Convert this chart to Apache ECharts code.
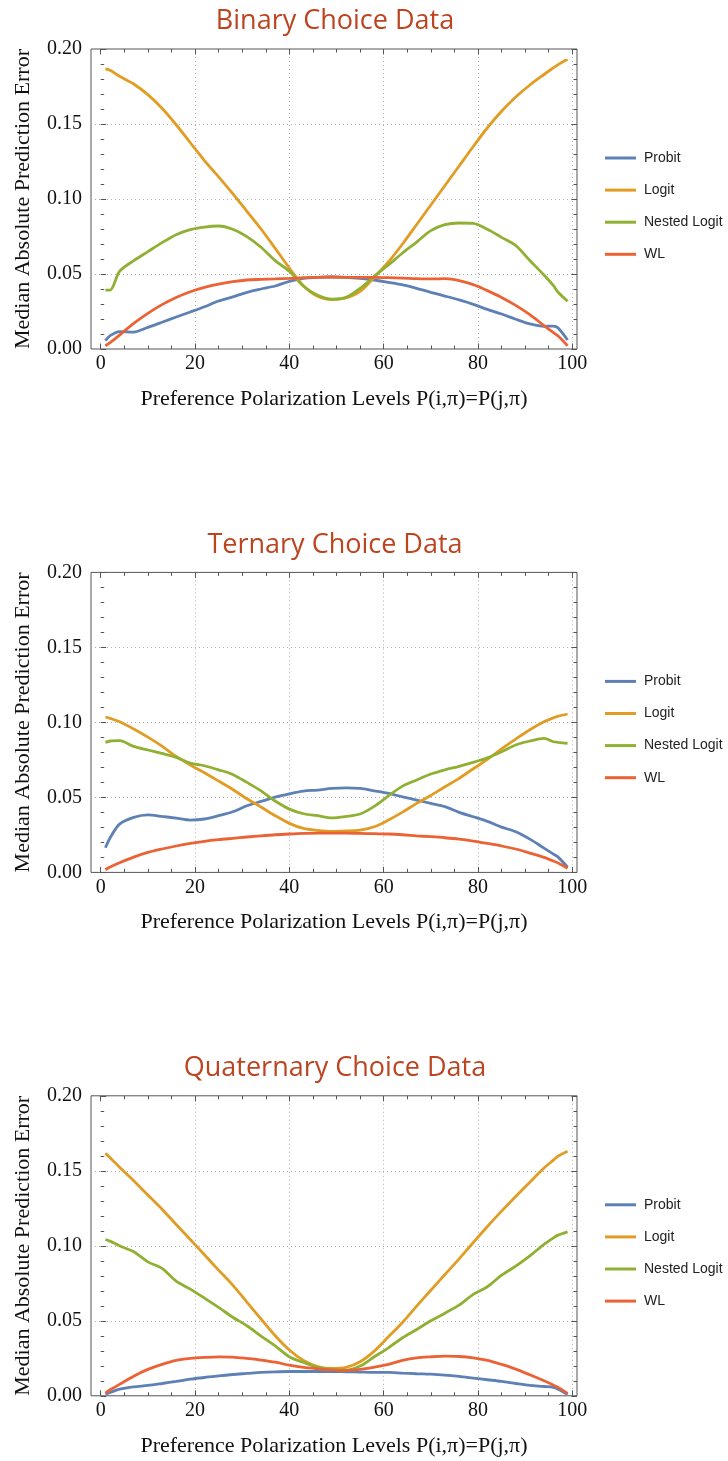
<!DOCTYPE html>
<html>
<head>
<meta charset="utf-8">
<title>Median Absolute Prediction Error</title>
<script src="https://cdn.jsdelivr.net/npm/echarts@6.0.0/dist/echarts.min.js"></script>
<style>
  html, body { margin: 0; padding: 0; background: #ffffff; }
  #chart { width: 728px; height: 1461px; }
</style>
</head>
<body>
<div id="chart"></div>
<script>
// Preference polarization levels at which the error is sampled
const X_VALUES = [1, 2, 4, 7, 10, 13, 16, 19, 22, 25, 28, 31, 34, 37, 40, 43, 46, 49,
                  52, 55, 58, 61, 64, 67, 70, 73, 76, 79, 82, 85, 88, 91, 94, 96, 97, 99];

const PANEL_TITLES = ['Binary Choice Data', 'Ternary Choice Data', 'Quaternary Choice Data'];
const SERIES_NAMES = ['Probit', 'Logit', 'Nested Logit', 'WL'];
const Y_TICKS = [0, 0.05, 0.10, 0.15, 0.20];
const X_TICKS = [0, 20, 40, 60, 80, 100];

// Binary choice data
const BINARY_PROBIT = [0.0056, 0.0089, 0.0116, 0.0113, 0.0144, 0.0178, 0.0213, 0.0247, 0.0282, 0.0320, 0.0347, 0.0378, 0.0400, 0.0420, 0.0451, 0.0471, 0.0478, 0.0480,
                       0.0478, 0.0471, 0.0460, 0.0444, 0.0427, 0.0404, 0.0378, 0.0353, 0.0327, 0.0298, 0.0264, 0.0233, 0.0198, 0.0167, 0.0151, 0.0153, 0.0140, 0.0060];
const BINARY_LOGIT = [0.1867, 0.1858, 0.1818, 0.1767, 0.1696, 0.1605, 0.1495, 0.1375, 0.1256, 0.1148, 0.1036, 0.0918, 0.0800, 0.0671, 0.0540, 0.0422, 0.0351, 0.0329,
                      0.0340, 0.0384, 0.0478, 0.0580, 0.0700, 0.0830, 0.0960, 0.1090, 0.1220, 0.1350, 0.1475, 0.1585, 0.1680, 0.1760, 0.1830, 0.1875, 0.1896, 0.1931];
const BINARY_NESTED = [0.0393, 0.0393, 0.0518, 0.0589, 0.0649, 0.0709, 0.0762, 0.0796, 0.0813, 0.0820, 0.0798, 0.0749, 0.0678, 0.0589, 0.0518, 0.0418, 0.0358, 0.0333,
                       0.0344, 0.0404, 0.0484, 0.0560, 0.0640, 0.0713, 0.0789, 0.0829, 0.0840, 0.0838, 0.0798, 0.0744, 0.0690, 0.0590, 0.0493, 0.0422, 0.0378, 0.0318];
const BINARY_WL = [0.0022, 0.0042, 0.0093, 0.0171, 0.0238, 0.0296, 0.0344, 0.0382, 0.0411, 0.0433, 0.0449, 0.0460, 0.0464, 0.0467, 0.0471, 0.0476, 0.0478, 0.0480,
                   0.0478, 0.0478, 0.0478, 0.0476, 0.0473, 0.0469, 0.0467, 0.0469, 0.0456, 0.0429, 0.0389, 0.0344, 0.0291, 0.0229, 0.0156, 0.0109, 0.0087, 0.0022];

// Ternary choice data
const TERNARY_PROBIT = [0.0164, 0.0231, 0.0322, 0.0367, 0.0384, 0.0373, 0.0362, 0.0349, 0.0356, 0.0378, 0.0404, 0.0444, 0.0473, 0.0502, 0.0524, 0.0542, 0.0549, 0.0560,
                        0.0564, 0.0560, 0.0544, 0.0527, 0.0504, 0.0482, 0.0460, 0.0438, 0.0400, 0.0371, 0.0340, 0.0302, 0.0271, 0.0222, 0.0162, 0.0122, 0.0102, 0.0035];
const TERNARY_LOGIT = [0.1036, 0.1027, 0.1004, 0.0956, 0.0902, 0.0842, 0.0773, 0.0716, 0.0664, 0.0609, 0.0553, 0.0491, 0.0436, 0.0378, 0.0327, 0.0293, 0.0280, 0.0273,
                       0.0276, 0.0282, 0.0304, 0.0349, 0.0402, 0.0460, 0.0513, 0.0571, 0.0627, 0.0691, 0.0753, 0.0824, 0.0889, 0.0951, 0.1004, 0.1031, 0.1042, 0.1056];
const TERNARY_NESTED = [0.0867, 0.0876, 0.0878, 0.0840, 0.0816, 0.0793, 0.0767, 0.0729, 0.0711, 0.0684, 0.0653, 0.0600, 0.0544, 0.0476, 0.0422, 0.0391, 0.0378, 0.0364,
                        0.0373, 0.0389, 0.0440, 0.0510, 0.0575, 0.0616, 0.0656, 0.0684, 0.0707, 0.0733, 0.0764, 0.0804, 0.0849, 0.0876, 0.0893, 0.0871, 0.0867, 0.0860];
const TERNARY_WL = [0.0018, 0.0036, 0.0064, 0.0102, 0.0133, 0.0156, 0.0176, 0.0193, 0.0207, 0.0218, 0.0227, 0.0236, 0.0244, 0.0251, 0.0256, 0.0260, 0.0262, 0.0262,
                    0.0262, 0.0260, 0.0258, 0.0256, 0.0251, 0.0244, 0.0238, 0.0231, 0.0222, 0.0209, 0.0193, 0.0176, 0.0156, 0.0129, 0.0100, 0.0076, 0.0062, 0.0027];

// Quaternary choice data
const QUATERNARY_PROBIT = [0.0011, 0.0022, 0.0044, 0.0060, 0.0069, 0.0082, 0.0096, 0.0111, 0.0122, 0.0133, 0.0142, 0.0149, 0.0156, 0.0160, 0.0162, 0.0162, 0.0162, 0.0162,
                           0.0160, 0.0158, 0.0156, 0.0156, 0.0151, 0.0147, 0.0144, 0.0138, 0.0129, 0.0118, 0.0107, 0.0096, 0.0082, 0.0069, 0.0062, 0.0056, 0.0044, 0.0009];
const QUATERNARY_LOGIT = [0.1616, 0.1587, 0.1524, 0.1433, 0.1338, 0.1244, 0.1142, 0.1042, 0.0940, 0.0838, 0.0738, 0.0625, 0.0512, 0.0400, 0.0305, 0.0235, 0.0195, 0.0182,
                          0.0189, 0.0227, 0.0298, 0.0393, 0.0489, 0.0598, 0.0704, 0.0809, 0.0913, 0.1022, 0.1129, 0.1231, 0.1329, 0.1424, 0.1518, 0.1571, 0.1598, 0.1631];
const QUATERNARY_NESTED = [0.1042, 0.1031, 0.1000, 0.0960, 0.0893, 0.0849, 0.0764, 0.0711, 0.0651, 0.0589, 0.0524, 0.0467, 0.0398, 0.0333, 0.0260, 0.0222, 0.0191, 0.0176,
                           0.0171, 0.0198, 0.0260, 0.0320, 0.0387, 0.0442, 0.0500, 0.0551, 0.0604, 0.0676, 0.0727, 0.0804, 0.0864, 0.0933, 0.1009, 0.1053, 0.1071, 0.1093];
const QUATERNARY_WL = [0.0018, 0.0040, 0.0076, 0.0131, 0.0176, 0.0209, 0.0236, 0.0249, 0.0256, 0.0260, 0.0258, 0.0249, 0.0238, 0.0224, 0.0204, 0.0189, 0.0180, 0.0173,
                       0.0169, 0.0176, 0.0191, 0.0209, 0.0236, 0.0253, 0.0260, 0.0264, 0.0262, 0.0253, 0.0236, 0.0209, 0.0178, 0.0140, 0.0100, 0.0071, 0.0056, 0.0016];

const PANEL_DATA = [
  [BINARY_PROBIT, BINARY_LOGIT, BINARY_NESTED, BINARY_WL],
  [TERNARY_PROBIT, TERNARY_LOGIT, TERNARY_NESTED, TERNARY_WL],
  [QUATERNARY_PROBIT, QUATERNARY_LOGIT, QUATERNARY_NESTED, QUATERNARY_WL]
];

// ---- layout & style ----
const COLORS = ['#5E81B5', '#E19C24', '#8FB032', '#EB6235'];
const FRAME_COLOR = '#555555';
const GRID_COLOR = '#b0b0b0';
const SERIF = '"Liberation Serif", "Times New Roman", serif';
const PANEL_STEP = 523.4;
const FRAME_LEFT = 91, FRAME_RIGHT = 577, FRAME_TOP = 49, FRAME_H = 300;
const X0_PX = 100.7, PX_PER_UNIT = 4.716;   // pixel of x = 0 and scale of the x axis
const dataMin = (FRAME_LEFT - X0_PX) / PX_PER_UNIT;
const dataMax = (FRAME_RIGHT - X0_PX) / PX_PER_UNIT;
const tickGridWidth = 100 * PX_PER_UNIT;

const option = {
  animation: false,
  backgroundColor: '#ffffff',
  title: [], legend: [], grid: [], xAxis: [], yAxis: [], series: []
};

PANEL_TITLES.forEach((panelTitle, k) => {
  const dy = k * PANEL_STEP;
  const top = FRAME_TOP + dy;

  option.title.push({
    text: panelTitle,
    left: 330,
    textAlign: 'center',
    top: 3 + dy,
    textStyle: { fontFamily: '"Open Sans", sans-serif', fontWeight: 'normal', fontSize: 27, color: '#BC4420' }
  });

  option.legend.push({
    data: SERIES_NAMES,
    orient: 'vertical',
    left: 605,
    top: 151 + dy,
    padding: 0,
    itemGap: 18.1,
    itemWidth: 31,
    itemHeight: 3,
    icon: 'rect',
    textStyle: { fontFamily: '"Liberation Sans", Arial, sans-serif', fontSize: 14, color: '#222', padding: [0, 0, 0, 3] }
  });

  // frame grid (holds the data) and tick grid (x = 0..100 for ticks and grid lines)
  option.grid.push({ left: FRAME_LEFT, top: top, width: FRAME_RIGHT - FRAME_LEFT, height: FRAME_H,
                     show: true, borderColor: FRAME_COLOR, borderWidth: 1, backgroundColor: 'transparent' });
  option.grid.push({ left: X0_PX, top: top, width: tickGridWidth, height: FRAME_H, show: false });

  const g0 = 2 * k, g1 = 2 * k + 1;

  // data x axis
  option.xAxis.push({
    type: 'value', gridIndex: g0, min: dataMin, max: dataMax,
    name: 'Preference Polarization Levels P(i,π)=P(j,π)',
    nameLocation: 'middle', nameGap: 39,
    nameTextStyle: { fontFamily: SERIF, fontSize: 22, color: '#111' },
    axisLine: { show: false }, axisTick: { show: false }, axisLabel: { show: false }, splitLine: { show: false }
  });
  // bottom ticks, labels and vertical grid lines
  option.xAxis.push({
    type: 'value', gridIndex: g1, min: 0, max: 100, interval: 20, position: 'bottom',
    axisLine: { show: false },
    axisTick: { show: true, inside: true, length: 5.5, lineStyle: { color: FRAME_COLOR } },
    minorTick: { show: true, splitNumber: 4, length: 3.5, lineStyle: { color: FRAME_COLOR } },
    axisLabel: { show: true, margin: 5, fontFamily: SERIF, fontSize: 20, color: '#111',
                 customValues: X_TICKS },
    splitLine: { show: true, showMinLine: false, showMaxLine: true,
                 lineStyle: { color: GRID_COLOR, type: [1, 3], width: 1 } }
  });
  // top ticks
  option.xAxis.push({
    type: 'value', gridIndex: g1, min: 0, max: 100, interval: 20, position: 'top',
    axisLine: { show: false },
    axisTick: { show: true, inside: true, length: 5.5, lineStyle: { color: FRAME_COLOR } },
    minorTick: { show: true, splitNumber: 4, length: 3.5, lineStyle: { color: FRAME_COLOR } },
    axisLabel: { show: false }, splitLine: { show: false }
  });

  // left axis: labels, ticks, horizontal grid lines
  option.yAxis.push({
    type: 'value', gridIndex: g0, min: 0, max: 0.2, interval: 0.05, position: 'left',
    name: 'Median Absolute Prediction Error',
    nameLocation: 'middle', nameGap: 57, nameRotate: 90,
    nameTextStyle: { fontFamily: SERIF, fontSize: 22, color: '#111' },
    axisLine: { show: false },
    axisTick: { show: true, inside: true, length: 5.5, lineStyle: { color: FRAME_COLOR } },
    minorTick: { show: true, splitNumber: 5, length: 3.5, lineStyle: { color: FRAME_COLOR } },
    axisLabel: { show: true, margin: 9, fontFamily: SERIF, fontSize: 20, color: '#111',
                 customValues: Y_TICKS, formatter: v => v.toFixed(2) },
    splitLine: { show: true, showMinLine: false, showMaxLine: false,
                 lineStyle: { color: GRID_COLOR, type: [1, 3], width: 1 } }
  });
  // right axis ticks
  option.yAxis.push({
    type: 'value', gridIndex: g0, min: 0, max: 0.2, interval: 0.05, position: 'right',
    axisLine: { show: false },
    axisTick: { show: true, inside: true, length: 5.5, lineStyle: { color: FRAME_COLOR } },
    minorTick: { show: true, splitNumber: 5, length: 3.5, lineStyle: { color: FRAME_COLOR } },
    axisLabel: { show: false }, splitLine: { show: false }
  });
  // companion y axis for the tick grid
  option.yAxis.push({ type: 'value', gridIndex: g1, min: 0, max: 0.2, show: false });

  PANEL_DATA[k].forEach((values, s) => {
    option.series.push({
      type: 'line',
      name: SERIES_NAMES[s],
      xAxisIndex: 3 * k, yAxisIndex: 3 * k,
      data: X_VALUES.map((x, i) => [x, values[i]]),
      showSymbol: false,
      smooth: 0.3,
      lineStyle: { color: COLORS[s], width: 2.8 },
      itemStyle: { color: COLORS[s] },
      z: 3 + s
    });
  });
});

const chart = echarts.init(document.getElementById('chart'), null, { renderer: 'canvas' });
chart.setOption(option);
</script>
</body>
</html>
